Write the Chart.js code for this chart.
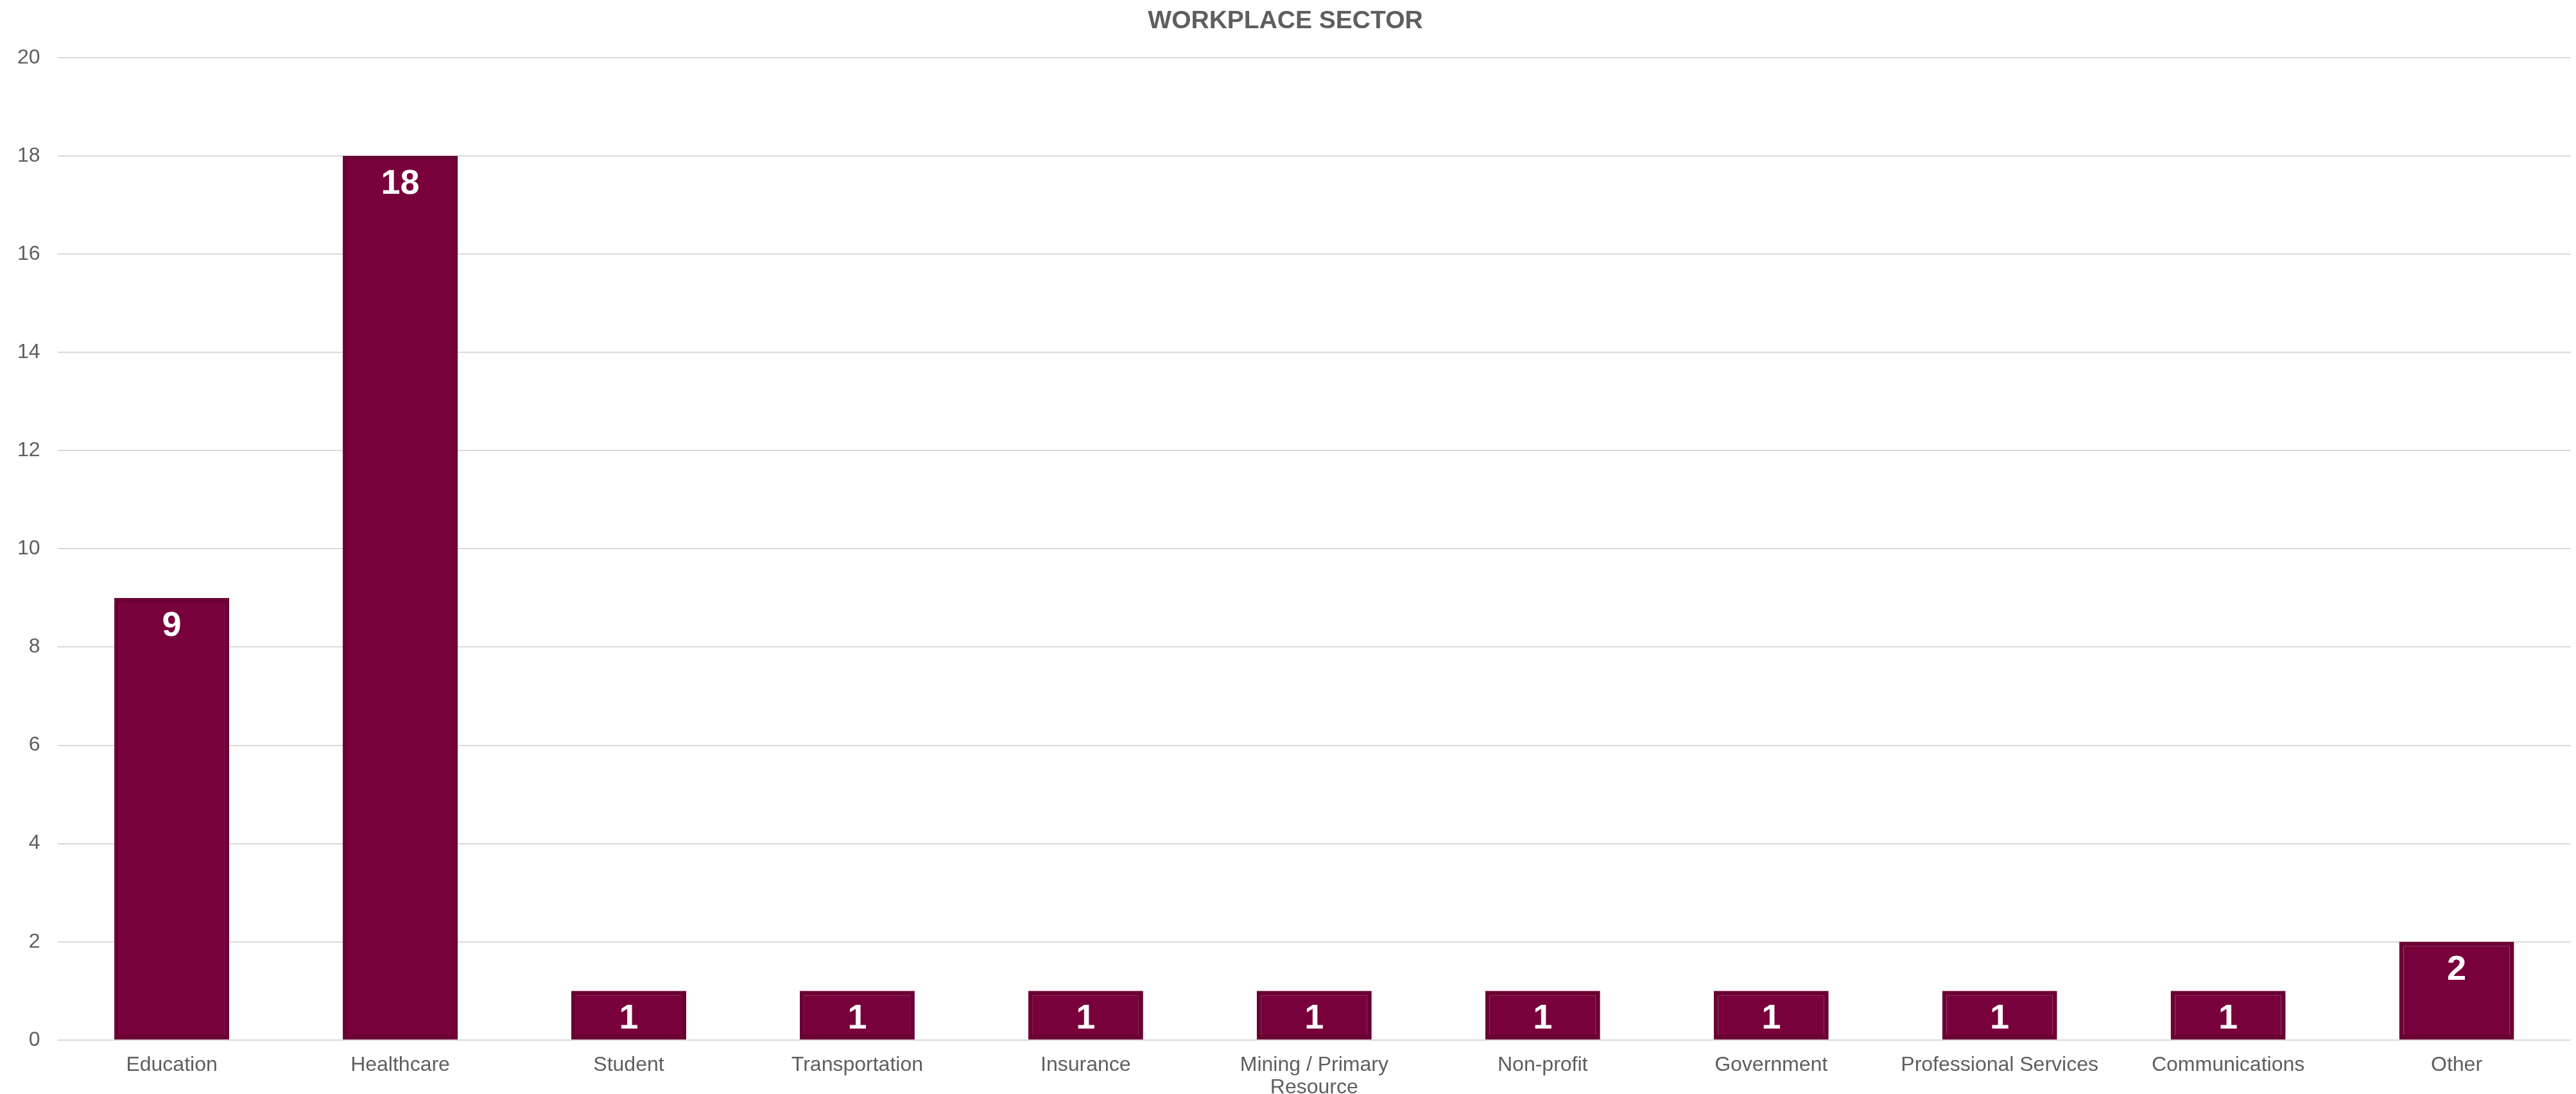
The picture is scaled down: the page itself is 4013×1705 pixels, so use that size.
<!DOCTYPE html>
<html>
<head>
<meta charset="utf-8">
<title>Workplace Sector</title>
<script src="https://cdn.jsdelivr.net/npm/chart.js@4/dist/chart.umd.min.js"></script>
<style>
  html, body { margin: 0; padding: 0; background: #fff; }
  #wrap { width: 4013px; height: 1705px; }
</style>
</head>
<body>
<div id="wrap"><canvas id="sectorChart"></canvas></div>
<script>
const sectors = [
  'Education', 'Healthcare', 'Student', 'Transportation', 'Insurance',
  ['Mining / Primary', 'Resource'], 'Non-profit', 'Government',
  'Professional Services', 'Communications', 'Other'
];
const counts = [9, 18, 1, 1, 1, 1, 1, 1, 1, 1, 2];
const yTicks = [0, 2, 4, 6, 8, 10, 12, 14, 16, 18, 20];

const TEXT = '#5e5e5e';
const FONT = "'Liberation Sans', Arial, sans-serif";

// white value labels just inside the top of each bar
const barValues = {
  id: 'barValues',
  afterDatasetsDraw(chart) {
    const ctx = chart.ctx;
    const meta = chart.getDatasetMeta(0);
    ctx.save();
    ctx.fillStyle = '#ffffff';
    ctx.font = `bold 54px ${FONT}`;
    ctx.textAlign = 'center';
    ctx.textBaseline = 'middle';
    meta.data.forEach((bar, i) => {
      ctx.fillText(String(counts[i]), bar.x, bar.y + 44);
    });
    ctx.restore();
  }
};

new Chart(document.getElementById('sectorChart'), {
  type: 'bar',
  data: {
    labels: sectors,
    datasets: [{
      data: counts,
      backgroundColor: '#78003b',
      borderColor: '#6b0033',
      borderWidth: 7,
      borderSkipped: false,
      barPercentage: 0.503,
      categoryPercentage: 1
    }]
  },
  options: {
    responsive: true,
    maintainAspectRatio: false,
    animation: false,
    layout: { padding: { left: 0, right: 8, top: 0, bottom: -21 } },
    plugins: {
      legend: { display: false },
      tooltip: { enabled: false },
      title: {
        display: true,
        text: 'WORKPLACE SECTOR',
        color: TEXT,
        font: { family: FONT, size: 39, weight: 'bold' },
        padding: { top: 10, bottom: 33 }
      }
    },
    scales: {
      x: {
        grid: { display: false },
        border: { display: false },
        ticks: {
          color: TEXT,
          font: { family: FONT, size: 32, lineHeight: 1.08 },
          padding: 14,
          maxRotation: 0,
          autoSkip: false
        }
      },
      y: {
        min: 0,
        max: 20,
        afterBuildTicks(axis) {
          axis.ticks = yTicks.map(v => ({ value: v }));
        },
        grid: { color: '#d9d9d9', lineWidth: 2, drawTicks: false },
        border: { display: false },
        ticks: {
          color: TEXT,
          font: { family: FONT, size: 32 },
          padding: 27
        }
      }
    }
  },
  plugins: [barValues]
});
</script>
</body>
</html>
